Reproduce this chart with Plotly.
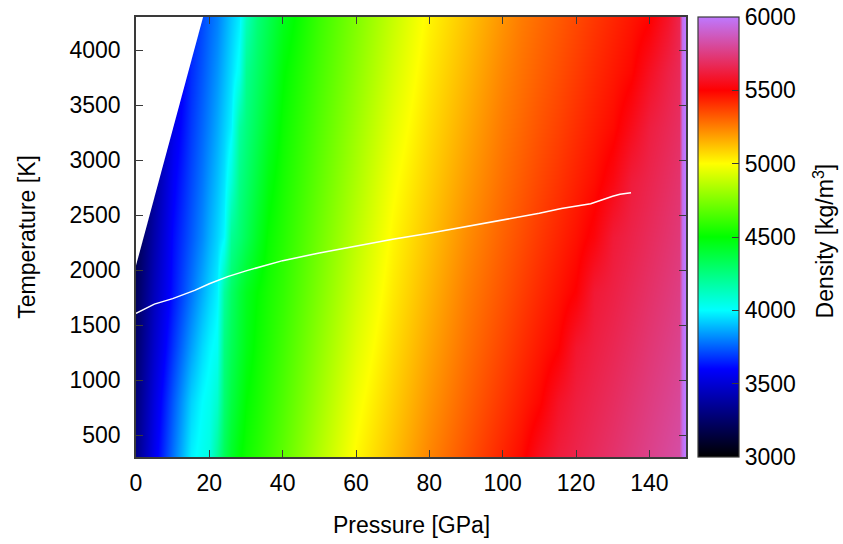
import plotly.graph_objects as go

# Pressure grid [GPa] and temperature grid [K] of the density table
pressure_gpa = [0, 5, 10, 15, 18, 20, 22, 24, 26, 28, 30, 33, 36, 40, 50, 60, 70, 80,
                90, 100, 105, 110, 115, 120, 125, 130, 135, 140, 145, 148, 149, 150]
temperature_k = [300, 800, 1300, 1800, 2300, 2800, 3300, 3800, 4300]

# Density [kg/m^3], one row per temperature
rho_300 = [3320, 3560, 3780, 3980, 4030, 4060, 4200, 4330, 4420, 4490, 4530, 4573, 4621, 4685,
           4850, 5011, 5125, 5239, 5337, 5433, 5481, 5560, 5618, 5649, 5679, 5710, 5741, 5771,
           5802, 5820, 5950, 6050]
rho_800 = [3285, 3525, 3740, 3930, 4000, 4030, 4100, 4280, 4370, 4440, 4500, 4544, 4592, 4655,
           4815, 4978, 5096, 5207, 5306, 5397, 5443, 5489, 5575, 5624, 5655, 5686, 5718, 5749,
           5780, 5799, 5950, 6050]
rho_1300 = [3250, 3480, 3680, 3850, 3940, 3985, 4020, 4250, 4330, 4400, 4460, 4520, 4564, 4626,
            4782, 4940, 5068, 5177, 5278, 5365, 5409, 5452, 5496, 5590, 5629, 5661, 5693, 5726,
            5758, 5777, 5950, 6050]
rho_1800 = [3215, 3440, 3630, 3780, 3870, 3925, 3980, 4190, 4300, 4380, 4440, 4500, 4545, 4598,
            4750, 4905, 5041, 5148, 5253, 5336, 5378, 5419, 5461, 5505, 5602, 5635, 5669, 5702,
            5736, 5756, 5950, 6050]
rho_2300 = [3180, 3401, 3613, 3738, 3815, 3874, 3933, 3993, 4208, 4271, 4334, 4429, 4511, 4571,
            4720, 4871, 5016, 5120, 5224, 5310, 5349, 5389, 5429, 5468, 5520, 5607, 5643, 5678,
            5714, 5735, 5950, 6050]
rho_2800 = [3140, 3362, 3583, 3712, 3785, 3840, 3899, 3958, 4075, 4232, 4292, 4382, 4472, 4545,
            4691, 4839, 4987, 5093, 5195, 5285, 5323, 5361, 5399, 5437, 5475, 5535, 5614, 5652,
            5691, 5714, 5950, 6050]
rho_3300 = [3100, 3322, 3544, 3688, 3759, 3807, 3865, 3924, 3982, 4183, 4254, 4339, 4425, 4520,
            4664, 4808, 4953, 5068, 5168, 5263, 5299, 5336, 5372, 5409, 5445, 5482, 5550, 5622,
            5666, 5692, 5950, 6050]
rho_3800 = [3060, 3283, 3505, 3666, 3734, 3780, 3832, 3890, 3948, 4025, 4219, 4301, 4382, 4492,
            4637, 4778, 4920, 5043, 5141, 5239, 5277, 5312, 5347, 5382, 5418, 5453, 5488, 5565,
            5637, 5671, 5950, 6050]
rho_4300 = [3020, 3243, 3466, 3644, 3711, 3756, 3800, 3857, 3914, 3971, 4133, 4265, 4343, 4448,
            4611, 4750, 4889, 5019, 5115, 5212, 5257, 5291, 5324, 5358, 5392, 5426, 5459, 5493,
            5580, 5650, 5950, 6050]
density = [rho_300, rho_800, rho_1300, rho_1800, rho_2300, rho_2800, rho_3300, rho_3800, rho_4300]

# Adiabat through the mantle
adiabat_p = [0, 2, 5, 10, 12, 16, 20, 25, 30, 40, 50, 60, 70, 80, 90, 100, 110, 116, 120,
             124, 126, 128, 130, 132, 135]
adiabat_t = [1605, 1640, 1690, 1740, 1765, 1815, 1875, 1940, 1992, 2085, 2155, 2220, 2280,
             2335, 2395, 2455, 2515, 2560, 2580, 2603, 2625, 2650, 2670, 2688, 2703]

# Edge of the tabulated domain (no data at low pressure / high temperature)
limit_p = [0, 18.3]
limit_t = [2040, 4300]

p_range = [0, 150]
t_range = [300, 4300]
rho_range = [3000, 6000]
p_ticks = [0, 20, 40, 60, 80, 100, 120, 140]
t_ticks = [500, 1000, 1500, 2000, 2500, 3000, 3500, 4000]
rho_ticks = [3000, 3500, 4000, 4500, 5000, 5500, 6000]

palette = [
    [0.0, "rgb(0,0,0)"],
    [0.2, "rgb(0,0,255)"],
    [1 / 3, "rgb(0,255,255)"],
    [0.5, "rgb(0,255,0)"],
    [2 / 3, "rgb(255,255,0)"],
    [5 / 6, "rgb(255,0,0)"],
    [1.0, "rgb(190,120,255)"],
]

axis_color = "#3a3a3a"
font_family = "Liberation Sans, Arial, Helvetica, sans-serif"
text_font = dict(size=23, family=font_family, color="black")

fig = go.Figure()

fig.add_trace(go.Heatmap(
    x=pressure_gpa,
    y=temperature_k,
    z=density,
    zmin=rho_range[0],
    zmax=rho_range[1],
    zsmooth="best",
    colorscale=palette,
    hoverinfo="skip",
    colorbar=dict(
        x=1.0218, xanchor="left", xpad=0,
        y=0.5, yanchor="middle", len=1, ypad=0,
        thickness=41,
        outlinewidth=1.2, outlinecolor=axis_color,
        tickvals=rho_ticks,
        ticks="inside", ticklen=7, tickcolor=axis_color, tickwidth=1.2,
        tickfont=text_font,
    ),
))

# Blank out the region beyond the table's limit
fig.add_trace(go.Scatter(
    x=limit_p + [p_range[0]],
    y=limit_t + [t_range[1]],
    mode="lines",
    fill="toself",
    fillcolor="white",
    line=dict(color="white", width=0),
    hoverinfo="skip",
))

fig.add_trace(go.Scatter(
    x=adiabat_p,
    y=adiabat_t,
    mode="lines",
    line=dict(color="white", width=1.5),
    hoverinfo="skip",
))

axis_common = dict(
    showgrid=False, zeroline=False,
    showline=True, linecolor=axis_color, linewidth=1.5, mirror="ticks",
    ticks="inside", ticklen=7, tickwidth=1.2, tickcolor=axis_color,
    tickfont=text_font,
)

titles = [
    dict(text="Pressure [GPa]", x=0.5, y=-0.155, textangle=0),
    dict(text="Temperature [K]", x=-0.1986, y=0.5, textangle=-90),
    dict(text="Density [kg/m<sup>3</sup>]", x=1.251, y=0.49, textangle=-90),
]

fig.update_layout(
    width=843, height=544,
    margin=dict(l=136, r=157, t=17, b=87),
    paper_bgcolor="white", plot_bgcolor="white",
    font=dict(family=font_family, size=23, color="black"),
    showlegend=False,
    xaxis=dict(range=p_range, tickvals=p_ticks, ticklabelstandoff=5, **axis_common),
    yaxis=dict(range=t_range, tickvals=t_ticks, ticklabelstandoff=9, **axis_common),
    annotations=[
        dict(text=t["text"], xref="paper", yref="paper", x=t["x"], y=t["y"],
             xanchor="center", yanchor="middle", textangle=t["textangle"],
             showarrow=False, font=text_font)
        for t in titles
    ],
)

fig.write_html("out.html")
